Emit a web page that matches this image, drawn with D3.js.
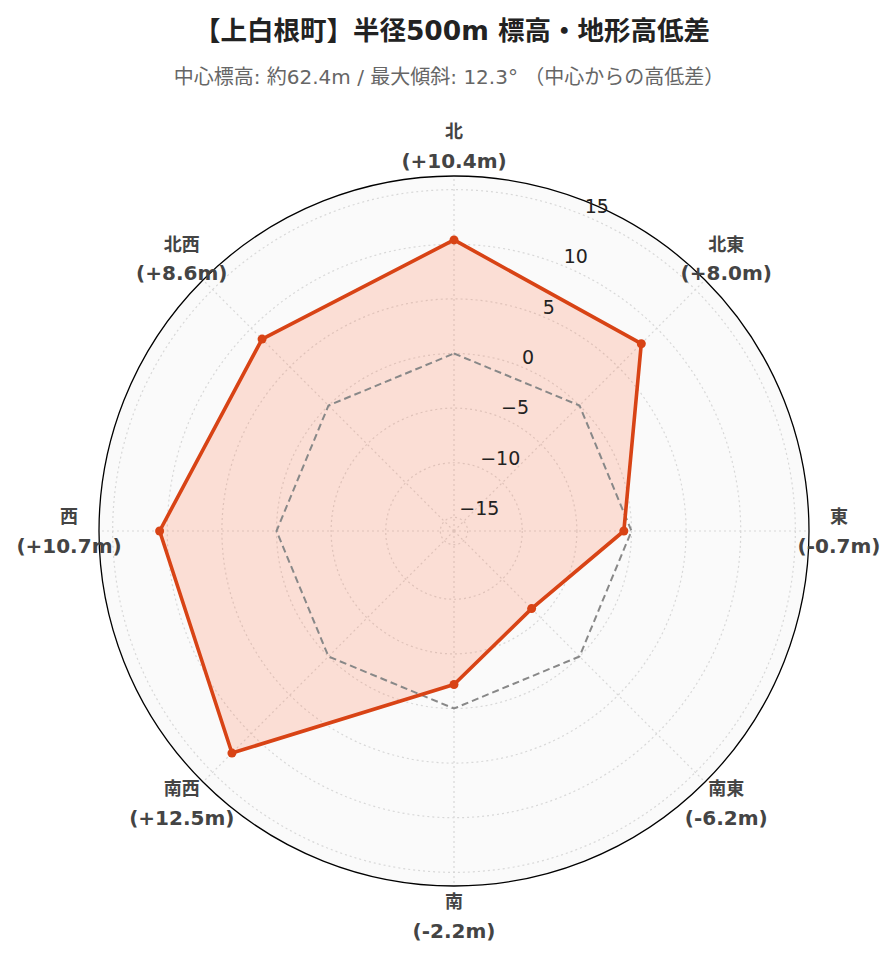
<!DOCTYPE html>
<html><head><meta charset="utf-8">
<script src="https://cdn.jsdelivr.net/npm/d3@7"></script>
<style>
body{margin:0;background:#fff;}
text{font-family:"DejaVu Sans","Noto Sans CJK JP",sans-serif;}
</style></head>
<body><svg id="c" width="896" height="962"></svg>
<script>
const directions = ["北","北東","東","南東","南","南西","西","北西"];
const diffs = [10.4, 8.0, -0.7, -6.2, -2.2, 12.5, 10.7, 8.6];
const refValues = [0,0,0,0,0,0,0,0];
const radialTicks = [-15,-10,-5,0,5,10,15];
const radialRange = [-16.25, 16.25];
const titleText = "【上白根町】半径500m 標高・地形高低差";
const subtitleText = "中心標高: 約62.4m / 最大傾斜: 12.3° （中心からの高低差）";

const svg = d3.select("#c");
const cx = 454, cy = 531, R = 355;
const r = d3.scaleLinear().domain(radialRange).range([0, R]);
const ang = d3.scaleLinear().domain([0, directions.length]).range([0, 2*Math.PI]);
const px = (i, v) => cx + r(v)*Math.sin(ang(i));
const py = (i, v) => cy - r(v)*Math.cos(ang(i));

svg.append("text").attr("x",452).attr("y",30).attr("text-anchor","middle")
  .attr("dominant-baseline","central").attr("font-size",26.5).attr("font-weight","bold")
  .attr("fill","#222").text(titleText);
svg.append("text").attr("x",449).attr("y",77).attr("text-anchor","middle")
  .attr("dominant-baseline","central").attr("font-size",20)
  .attr("fill","#666").text(subtitleText);

const g = svg.append("g");
g.append("circle").attr("cx",cx).attr("cy",cy).attr("r",R).attr("fill","#fafafa");

g.selectAll("circle.grid").data(radialTicks).join("circle").attr("class","grid")
  .attr("cx",cx).attr("cy",cy).attr("r",d=>r(d))
  .attr("fill","none").attr("stroke","#d8d8d8").attr("stroke-width",1.2).attr("stroke-dasharray","2,3");
g.selectAll("line.spoke").data(directions).join("line").attr("class","spoke")
  .attr("x1",cx).attr("y1",cy)
  .attr("x2",(d,i)=>px(i,radialRange[1])).attr("y2",(d,i)=>py(i,radialRange[1]))
  .attr("stroke","#d8d8d8").attr("stroke-width",1.2).attr("stroke-dasharray","2,3");

const line = d3.lineRadial().angle((d,i)=>ang(i)).radius(d=>r(d)).curve(d3.curveLinearClosed);

g.append("path").attr("transform",`translate(${cx},${cy})`).datum(diffs)
  .attr("d",line).attr("fill","rgba(255,112,67,0.2)").attr("stroke","none");

g.append("path").attr("transform",`translate(${cx},${cy})`).datum(refValues)
  .attr("d",line).attr("fill","none").attr("stroke","#888").attr("stroke-width",2)
  .attr("stroke-dasharray","7,4");

g.append("path").attr("transform",`translate(${cx},${cy})`).datum(diffs)
  .attr("d",line).attr("fill","none").attr("stroke","#d84315").attr("stroke-width",3.6)
  .attr("stroke-linejoin","round");
g.selectAll("circle.pt").data(diffs).join("circle").attr("class","pt")
  .attr("cx",(d,i)=>px(i,d)).attr("cy",(d,i)=>py(i,d)).attr("r",4.5).attr("fill","#d84315");

g.append("circle").attr("cx",cx).attr("cy",cy).attr("r",R).attr("fill","none")
  .attr("stroke","#000").attr("stroke-width",1.3);

const tickAng = Math.PI/8;
g.selectAll("text.tick").data(radialTicks).join("text").attr("class","tick")
  .attr("x",d=>cx + r(d)*Math.sin(tickAng))
  .attr("y",d=>cy - r(d)*Math.cos(tickAng) - 10)
  .attr("dominant-baseline","central").attr("font-size",19).attr("fill","#222")
  .text(d=>d<0 ? "\u2212"+Math.abs(d) : String(d));

const fmt = v => "(" + (v>0?"+":"") + v.toFixed(1) + "m)";
const LR = 385;
const lab = g.selectAll("g.lab").data(directions).join("g").attr("class","lab")
  .attr("transform",(d,i)=>`translate(${cx+LR*Math.sin(ang(i))},${cy-LR*Math.cos(ang(i))})`);
lab.append("text").attr("y",-14.5).attr("text-anchor","middle").attr("dominant-baseline","central")
  .attr("font-size",18).attr("font-weight","bold").attr("fill","#444").text(d=>d);
lab.append("text").attr("y",14.5).attr("text-anchor","middle").attr("dominant-baseline","central")
  .attr("font-size",20).attr("font-weight","bold").attr("fill","#444").text((d,i)=>fmt(diffs[i]));
</script></body></html>
